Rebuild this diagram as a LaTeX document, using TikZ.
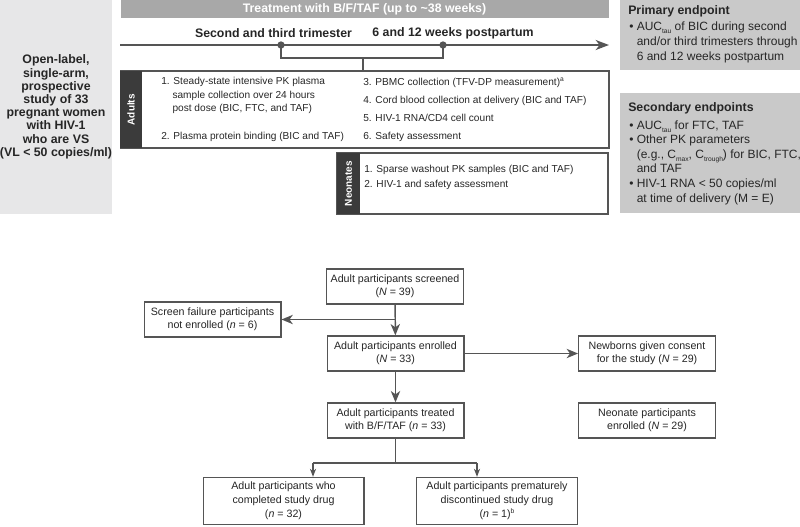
\documentclass[tikz,border=0pt]{standalone}
\usepackage{fontspec}
\setmainfont{Liberation Sans}
\usepackage{tikz}
\usetikzlibrary{arrows.meta,positioning,calc}
\definecolor{inkgray}{HTML}{262626}
\definecolor{linegray}{HTML}{555555}
\definecolor{designfill}{HTML}{E7E7E8}
\definecolor{barfill}{HTML}{A8A8A8}
\definecolor{endfill}{HTML}{C9C9C9}
\definecolor{bandfill}{HTML}{3B3B3B}
\newcommand{\sbs}[1]{\raisebox{-0.5ex}{\fontsize{5}{5}\selectfont #1}}
\newcommand{\sps}[1]{\raisebox{0.7ex}{\fontsize{5}{5}\selectfont #1}}
\newcommand{\hang}{\hphantom{1.\ }}
\newcommand{\bhang}{\hphantom{\textbullet\ }}

\begin{document}
\begin{tikzpicture}[x=0.75pt,y=-0.75pt,
	every node/.style={text=inkgray},
	phasetext/.style={font=\fontsize{9.25}{9.9}\selectfont\bfseries},
	itemtext/.style={anchor=west,inner sep=0pt,align=left,font=\fontsize{7.6}{10.1}\selectfont},
	band/.style={fill=bandfill,text=white,rotate=90,inner sep=0pt,font=\fontsize{7.5}{8}\selectfont\bfseries},
	studybox/.style={draw=linegray,line width=1.5pt,inner sep=0pt},
	endbox/.style={fill=endfill,inner sep=0pt,minimum width=135pt},
	endtext/.style={anchor=west,inner sep=0pt,align=left,font=\fontsize{9}{11.25}\selectfont},
	flowbox/.style={draw=linegray,line width=1pt,fill=white,align=center,inner sep=1pt,font=\fontsize{8}{10}\selectfont,minimum width=102.5pt,minimum height=26.25pt},
	widebox/.style={flowbox,font=\fontsize{8}{10.5}\selectfont,minimum width=120.5pt,minimum height=35.25pt},
	flowline/.style={draw=linegray,line width=1.1pt},
	flowarr/.style={flowline,-{Stealth[length=8.5pt,width=7pt,inset=2.5pt]}},
	splitarr/.style={flowline,-{Stealth[length=6pt,width=4.5pt,inset=1.8pt]}},
	timedot/.style={circle,fill=linegray,inner sep=0pt,minimum size=5.5pt}]
	\useasboundingbox (0,0) rectangle (800,526);
	\node[fill=designfill,minimum width=84pt,minimum height=160.5pt,inner sep=0pt,phasetext,align=center] (design) at (56,107) {Open-label,\\single-arm,\\prospective\\study of 33\\pregnant women\\with HIV-1\\who are VS\\(VL < 50 copies/ml)};
	\node[fill=barfill,minimum width=366pt,minimum height=13.8pt,inner sep=0pt,phasetext,text=white] (treatbar) at (364.5,9.2) {Treatment with B/F/TAF (up to \textasciitilde38 weeks)};
	\coordinate (tlstart) at (120,45);
	\coordinate (tlend) at (609,45);
	\draw[line width=1.5pt,draw=linegray,-{Stealth[length=10pt,width=7.5pt,inset=3pt]}] (tlstart) -- (tlend);
	\node[phasetext] (secthird) at (273.5,33) {Second and third trimester};
	\node[phasetext] (postpart) at (453,33) {6 and 12 weeks postpartum};
	\node[studybox,minimum width=366pt,minimum height=58.1pt] (adults) at (364.5,109.75) {};
	\node[band,minimum width=58.1pt,minimum height=16.5pt] (adultsband) at (131,109.75) {Adults};
	\node[itemtext] (adultsA) at (161,95.5) {1. Steady-state intensive PK plasma\\\hang sample collection over 24 hours\\\hang post dose (BIC, FTC, and TAF)};
	\node[itemtext] (adultsB) at (161,137) {2. Plasma protein binding (BIC and TAF)};
	\node[itemtext,font=\fontsize{7.6}{13.5}\selectfont] (adultsC) at (363,110) {3. PBMC collection (TFV-DP measurement)\sps{a}\\4. Cord blood collection at delivery (BIC and TAF)\\5. HIV-1 RNA/CD4 cell count\\6. Safety assessment};
	\node[timedot] (dsec) at (281,45) {};
	\node[timedot] (dpost) at (443,45) {};
	\coordinate (bjoin) at (363,58);
	\draw[flowline] (dsec.center) -- (dsec.center |- bjoin) -- (dpost.center |- bjoin) -- (dpost.center);
	\draw[flowline] (bjoin) -- (bjoin |- adults.north);
	\node[studybox,minimum width=203.25pt,minimum height=45.75pt] (neonates) at (472.5,183.5) {};
	\node[band,minimum width=45.75pt,minimum height=17.25pt] (neoband) at (348.5,183.5) {Neonates};
	\node[itemtext,font=\fontsize{7.6}{11.25}\selectfont] (neoitems) at (364,177.5) {1. Sparse washout PK samples (BIC and TAF)\\2. HIV-1 and safety assessment};
	\node[endbox,minimum height=52.5pt] (primary) at (710,35) {};
	\node[phasetext,anchor=west,inner sep=0pt] (primtitle) at (628,11) {Primary endpoint};
	\node[endtext] (primitems) at (629,42) {\textbullet\ AUC\sbs{tau} of BIC during second\\\bhang and/or third trimesters through\\\bhang 6 and 12 weeks postpartum};
	\node[endbox,minimum height=90pt] (secondary) at (710,153) {};
	\node[phasetext,anchor=west,inner sep=0pt] (sectitle) at (628,108) {Secondary endpoints};
	\node[endtext,font=\fontsize{9}{10.95}\selectfont] (secitems) at (629,162.5) {\textbullet\ AUC\sbs{tau} for FTC, TAF\\\textbullet\ Other PK parameters\\\bhang (e.g., C\sbs{max}, C\sbs{trough}) for BIC, FTC,\\\bhang and TAF\\\textbullet\ HIV-1 RNA < 50 copies/ml\\\bhang at time of delivery (M = E)};
	\node[flowbox] (screened) at (395,286.5) {Adult participants screened\\(\textit{N} = 39)};
	\node[flowbox] (screenfail) at (212.5,319.5) {Screen failure participants\\not enrolled (\textit{n} = 6)};
	\node[flowbox] (enrolled) at (395.5,353.5) {Adult participants enrolled\\(\textit{N} = 33)};
	\node[flowbox] (newborns) at (647,353.5) {Newborns given consent\\for the study (\textit{N} = 29)};
	\node[flowbox] (treated) at (395.5,420.5) {Adult participants treated\\with B/F/TAF (\textit{n} = 33)};
	\node[flowbox] (neoenrolled) at (647,420.5) {Neonate participants\\enrolled (\textit{N} = 29)};
	\node[widebox] (completed) at (283.5,501) {Adult participants who\\completed study drug\\(\textit{n} = 32)};
	\node[widebox] (discont) at (497,501) {Adult participants prematurely\\discontinued study drug\\(\textit{n} = 1)\sps{b}};
	\draw[flowarr] (screened) -- (enrolled);
	\coordinate (failjoin) at (screened.south |- screenfail.east);
	\draw[flowarr] (failjoin) -- (screenfail);
	\draw[flowarr] (enrolled) -- (newborns);
	\draw[flowarr] (enrolled) -- (treated);
	\coordinate (splitleft) at (313,463);
	\coordinate (splitright) at (477,463);
	\coordinate (split) at (treated.south |- splitleft);
	\draw[flowline] (treated) -- (split);
	\draw[flowline] (splitleft) -- (splitright);
	\draw[splitarr] (splitleft) -- (splitleft |- completed.north);
	\draw[splitarr] (splitright) -- (splitright |- discont.north);
\end{tikzpicture}
\end{document}
